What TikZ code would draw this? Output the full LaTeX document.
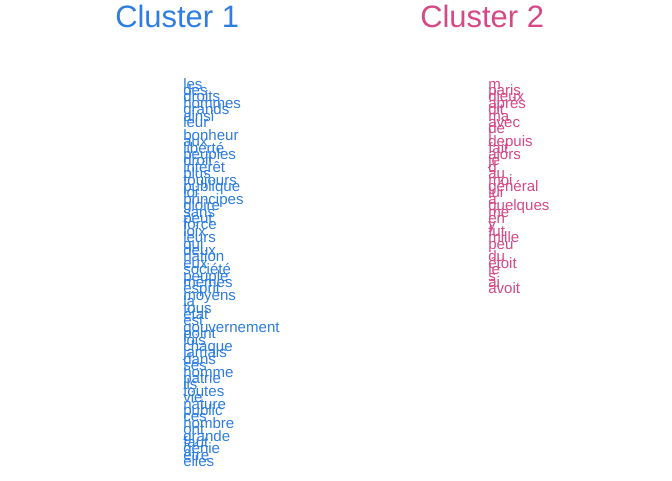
\documentclass[tikz,border=0pt]{standalone}
\usepackage{fontspec}
\setmainfont{Liberation Sans}
\definecolor{cblue}{RGB}{46,125,225}
\definecolor{cpink}{RGB}{214,72,134}
\begin{document}
\begin{tikzpicture}[x=0.75pt,y=-0.75pt,
  word/.style={anchor=base west,inner sep=0pt,font=\fontsize{11.3pt}{11.5pt}\selectfont},
  wordA/.style={word,text=cblue},
  wordB/.style={word,text=cpink},
  title/.style={anchor=base west,inner sep=0pt,font=\fontsize{23.2pt}{24pt}\selectfont}]
\useasboundingbox (0,0) rectangle (672,480);
\node[title,text=cblue] (t1) at (115,27) {Cluster 1};
\node[title,text=cpink] (t2) at (420,27) {Cluster 2};
\foreach \w [count=\i from 0] in {les,des,droits,hommes,grands,ainsi,leur}
  \node[wordA] (a\i) at (183,{89+6.4*\i}) {\w};
\foreach \w [count=\i from 8] in {bonheur,aux,liberté,peuples,droit,intérêt,plus,toujours,publique,loi,principes,gloire,sans,peut,force,loix,leurs,qui,deux,nation,eux,société,peuple,mêmes,esprit,moyens,la,tous,état,est,gouvernement,point,lois,chaque,jamais,dans,ses,homme,patrie,ils,toutes,vie,nature,public,ces,nombre,ont,grande,faut,génie,être,elles}
  \node[wordA] (a\i) at (183,{89+6.4*\i}) {\w};
\foreach \w [count=\i from 0] in {m,paris,dieux,après,dit,ma,avec,de,l,depuis,fait,alors,je,d,au,moi,général,lui,a,quelques,me,en,y,fut,mille,peu}
  \node[wordB] (b\i) at (488,{89+6.4*\i}) {\w};
\foreach \w [count=\i from 27] in {du,étoit,le,s,ai,avoit}
  \node[wordB] (b\i) at (488,{89+6.4*\i}) {\w};
\end{tikzpicture}
\end{document}
